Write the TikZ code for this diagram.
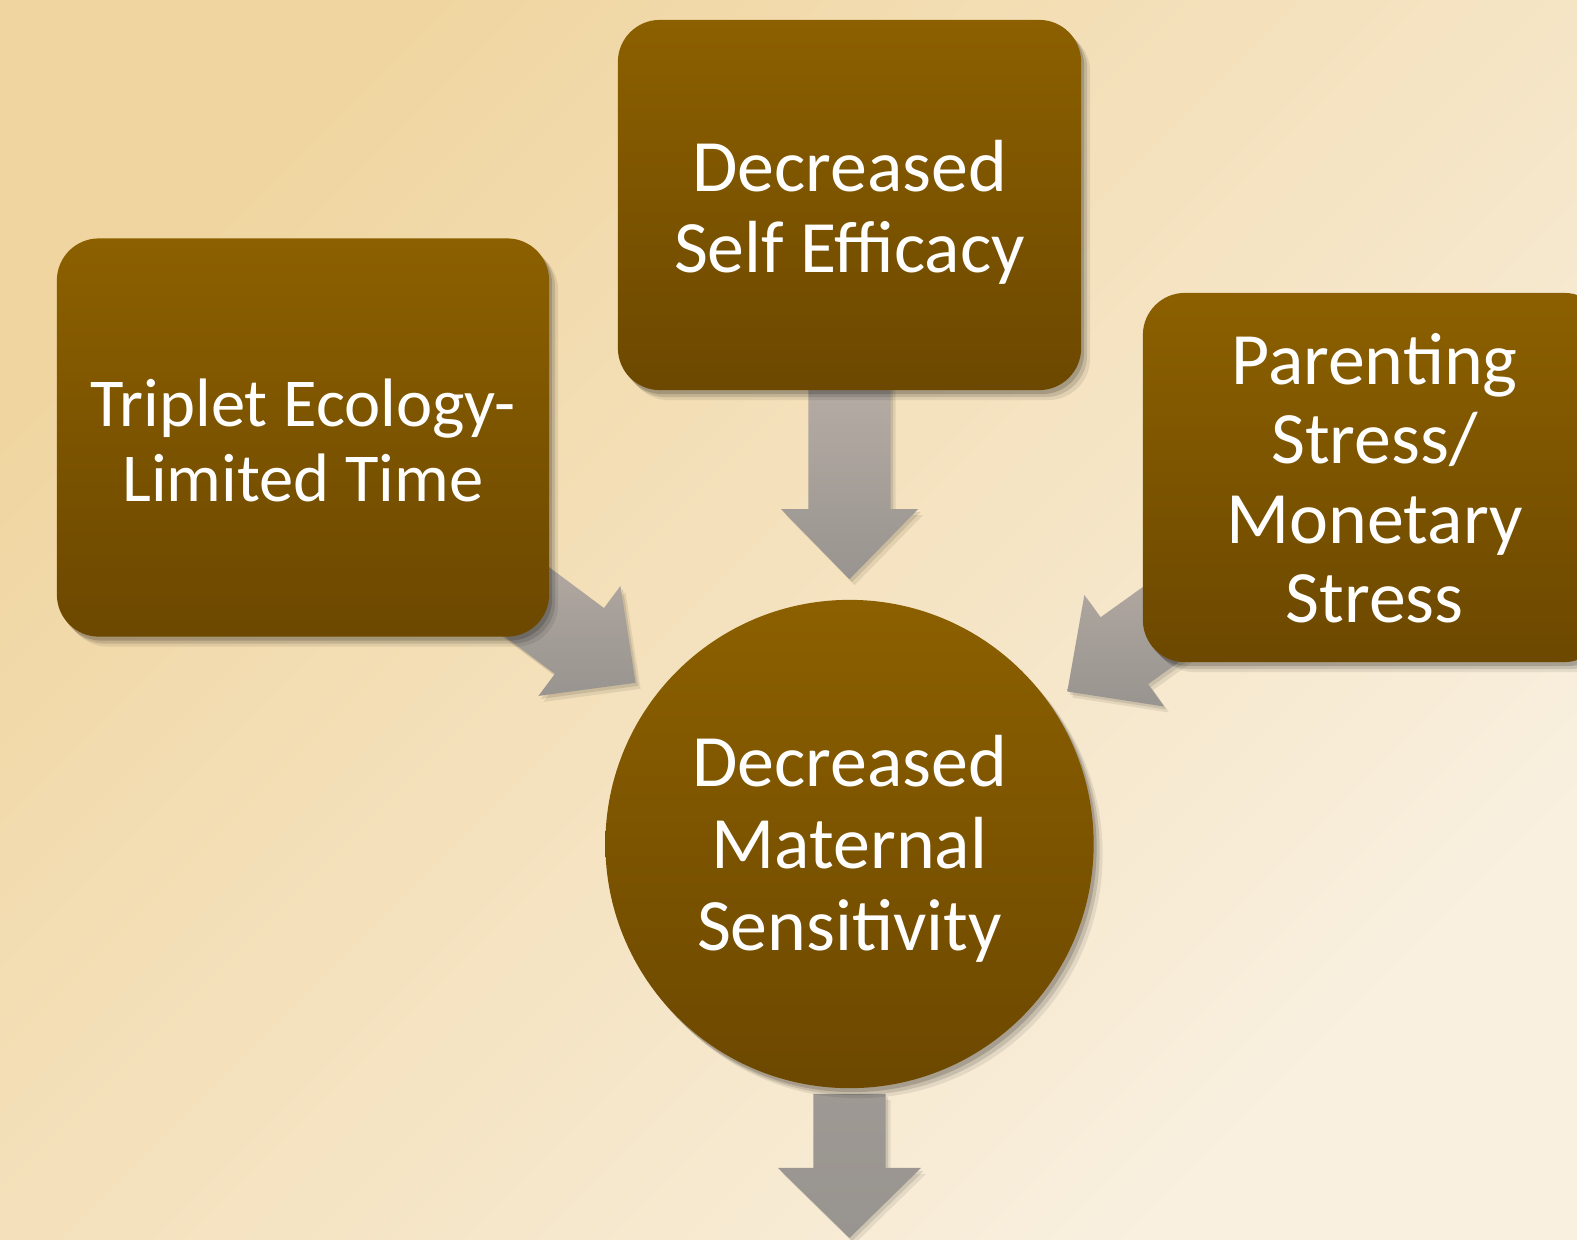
\documentclass[tikz,border=0pt]{standalone}
\usepackage{fontspec}
\setmainfont{Carlito}
\usetikzlibrary{calc,positioning}
\definecolor{Sand}{RGB}{240,213,160}
\definecolor{Cream}{RGB}{249,240,224}
\definecolor{Umber}{RGB}{140,96,0}
\definecolor{UmberDark}{RGB}{108,72,0}
\definecolor{Ash}{RGB}{182,172,164}
\definecolor{AshDark}{RGB}{152,148,143}

\pgfdeclarelayer{back}
\pgfdeclarelayer{flows}
\pgfsetlayers{back,flows,main}

\tikzset{
  % soft shadow from a few shifted translucent copies
  dropshadow/.style={
    preaction={fill=black, fill opacity=.08, transform canvas={xshift=.9mm, yshift=-1mm}},
    preaction={fill=black, fill opacity=.12, transform canvas={xshift=.6mm, yshift=-.7mm}},
    preaction={fill=black, fill opacity=.16, transform canvas={xshift=.3mm, yshift=-.4mm}}},
  cause/.style={rectangle, rounded corners=4.2mm, top color=Umber, bottom color=UmberDark,
    text=white, font=\fontsize{21}{23}\selectfont, dropshadow},
  effect/.style={circle, top color=Umber, bottom color=UmberDark,
    text=white, font=\fontsize{21}{23.3}\selectfont, dropshadow},
  flow/.style={top color=Ash, bottom color=AshDark,
    preaction={fill=black, fill opacity=.08, transform canvas={xshift=.5mm, yshift=-.6mm}},
    preaction={fill=black, fill opacity=.10, transform canvas={xshift=.25mm, yshift=-.3mm}}},
}

% centred lines, set a little lower than the node centre
\newcommand{\lines}[2]{\raisebox{-#1}[\height][\depth]{\begin{tabular}{@{}c@{}}#2\end{tabular}}}

% block arrow: [extra style] start, tip, half shaft, half head, name of the head base
\newcommand{\flowarrow}[6][]{%
  \coordinate (#6) at ($(#3)!7mm!(#2)$);
  \path[flow,#1] ($(#2)!#4!-90:(#3)$) -- ($(#6)!#4!-90:(#3)$) -- ($(#6)!#5!-90:(#3)$) -- (#3)
    -- ($(#6)!#5!90:(#3)$) -- ($(#6)!#4!90:(#3)$) -- ($(#2)!#4!90:(#3)$) -- cycle;
}

\begin{document}
\begin{tikzpicture}[x=0.01cm,y=-0.01cm]
  \useasboundingbox (0,0) rectangle (1577,1239);
  \begin{pgfonlayer}{back}
    \shade[top color=Sand, bottom color=Cream, shading angle=45] (0,0) rectangle (1577,1239);
  \end{pgfonlayer}
  \clip (0,0) rectangle (1577,1239);

  % the three causes and the outcome
  \node[cause, minimum width=4.92cm, minimum height=3.98cm,
        font=\fontsize{19.5}{21.3}\selectfont] (ecology) at (303,437.5)
        {\lines{3.2pt}{Triplet Ecology-\\Limited Time}};
  \node[cause, minimum width=4.63cm, minimum height=3.70cm] (efficacy) at (849.5,205)
        {\lines{3.2pt}{Decreased\\Self Efficacy}};
  \node[cause, minimum width=4.63cm, minimum height=3.69cm,
        font=\fontsize{21}{22.6}\selectfont] (stress) at (1374.5,477.5)
        {\lines{2.9pt}{Parenting\\Stress/\\Monetary\\Stress}};
  \node[effect, minimum size=4.88cm] (sensitivity) at (849.5,844)
        {\lines{2.2pt}{Decreased\\Maternal\\Sensitivity}};

  % arrows run behind the boxes
  \coordinate (efficacy-in) at ($(efficacy.south)+(0,1mm)$);
  \coordinate (efficacy-tip) at ($(sensitivity.north)+(0,2mm)$);
  \coordinate (ecology-in) at ($(ecology.center)+(1.82cm,-1.33cm)$);
  \coordinate (ecology-tip) at ($(sensitivity.143.5)!-2.3mm!(sensitivity.center)$);
  \coordinate (stress-in) at ($(stress.center)+(-1.535cm,-1.04cm)$);
  \coordinate (stress-tip) at ($(sensitivity.35)!-2.1mm!(sensitivity.center)$);
  \coordinate (out-in) at ($(sensitivity.south)+(0,-.5mm)$);
  \coordinate (out-tip) at ($(sensitivity.south)+(0,-14.9mm)$);
  \begin{pgfonlayer}{flows}
    \flowarrow{efficacy-in}{efficacy-tip}{4.1mm}{6.85mm}{efficacy-head}
    \flowarrow{ecology-in}{ecology-tip}{4.1mm}{6.85mm}{ecology-head}
    \flowarrow{stress-in}{stress-tip}{4.1mm}{6.85mm}{stress-head}
    \flowarrow[top color=AshDark!80!Ash]{out-in}{out-tip}{3.6mm}{7.15mm}{out-head}
  \end{pgfonlayer}
\end{tikzpicture}
\end{document}
